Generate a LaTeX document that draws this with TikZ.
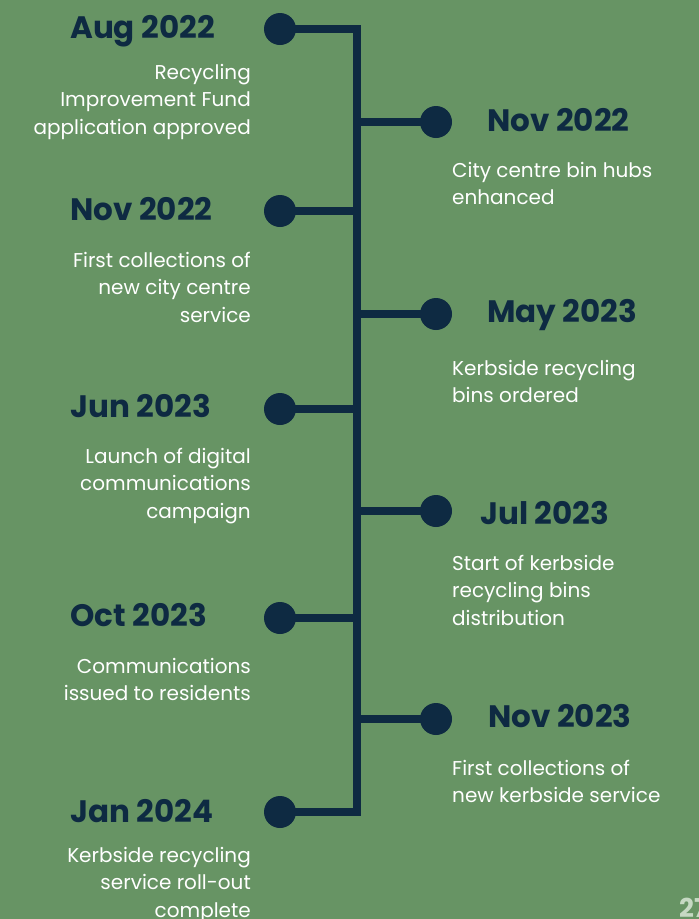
\documentclass[tikz,border=0pt]{standalone}
\usepackage{fontspec}
\setmainfont{Poppins}
\definecolor{councilGreen}{HTML}{679464}
\definecolor{councilNavy}{HTML}{0E2A42}
\definecolor{councilMint}{HTML}{C6D9C3}
\tikzset{
  yr/.style={font=\bfseries\fontsize{31}{35}\selectfont, text=councilNavy, inner sep=0pt},
  txt/.style={font=\fontsize{20}{27.7}\selectfont, text=white, inner sep=0pt},
}

\begin{document}
\begin{tikzpicture}[x=1pt, y=-1pt,
  dot/.style={circle, fill=councilNavy, minimum size=32pt, inner sep=0pt},
  stem/.style={draw=councilNavy, line width=7.5pt}]
  \fill[councilGreen] (0,0) rectangle (699,919);
  \useasboundingbox (0,0) rectangle (699,919);
  \coordinate (spine) at (357,0);
  % dots, left and right of the spine
  \node[dot] (aug22) at (280,29)  {};
  \node[dot] (novL)  at (280,211) {};
  \node[dot] (jun23) at (280,409) {};
  \node[dot] (oct23) at (280,618) {};
  \node[dot] (jan24) at (280,812) {};
  \node[dot] (novR)  at (436,122) {};
  \node[dot] (may23) at (436,314) {};
  \node[dot] (jul23) at (436,511) {};
  \node[dot] (nov23) at (436,719) {};
  % spine and branches
  \draw[stem] (aug22.center) -- (aug22 -| spine) -- (jan24 -| spine) -- (jan24.center);
  \draw[stem] (novL -| spine) -- (novL.center);
  \draw[stem] (jun23 -| spine) -- (jun23.center);
  \draw[stem] (oct23 -| spine) -- (oct23.center);
  \draw[stem] (novR -| spine) -- (novR.center);
  \draw[stem] (may23 -| spine) -- (may23.center);
  \draw[stem] (jul23 -| spine) -- (jul23.center);
  \draw[stem] (nov23 -| spine) -- (nov23.center);
  % left column (text nodes sit on the baseline of their last line)
  \node[yr, anchor=base west] (hAug22) at (70,38) {Aug 2022};
  \node[txt, anchor=base east, align=right] (tAug22) at (251,134.4) {Recycling\\Improvement Fund\\application approved};
  \node[yr, anchor=base west] (hNovL) at (70,220) {Nov 2022};
  \node[txt, anchor=base east, align=right] (tNovL) at (251,322.4) {First collections of\\new city centre\\service};
  \node[yr, anchor=base west] (hJun23) at (70,417) {Jun 2023};
  \node[txt, anchor=base east, align=right] (tJun23) at (251,518.4) {Launch of digital\\communications\\campaign};
  \node[yr, anchor=base west] (hOct23) at (70,626) {Oct 2023};
  \node[txt, anchor=base east, align=right] (tOct23) at (251,700.7) {Communications\\issued to residents};
  \node[yr, anchor=base west] (hJan24) at (70,822) {Jan 2024};
  \node[txt, anchor=base east, align=right] (tJan24) at (251,917.4) {Kerbside recycling\\service roll-out\\complete};
  % right column
  \node[yr, anchor=base west] (hNovR) at (487,131) {Nov 2022};
  \node[txt, anchor=base west, align=left] (tNovR) at (452,204.7) {City centre bin hubs\\enhanced};
  \node[yr, anchor=base west] (hMay23) at (487,322) {May 2023};
  \node[txt, anchor=base west, align=left] (tMay23) at (452,402.7) {Kerbside recycling\\bins ordered};
  \node[yr, anchor=base west] (hJul23) at (480,524) {Jul 2023};
  \node[txt, anchor=base west, align=left] (tJul23) at (452,625.4) {Start of kerbside\\recycling bins\\distribution};
  \node[yr, anchor=base west] (hNov23) at (488,727) {Nov 2023};
  \node[txt, anchor=base west, align=left] (tNov23) at (452,802.7) {First collections of\\new kerbside service};
  % page number
  \node[font=\bfseries\fontsize{26}{30}\selectfont, text=councilMint, inner sep=0pt, anchor=base west] (page) at (679,917) {27};
\end{tikzpicture}
\end{document}
